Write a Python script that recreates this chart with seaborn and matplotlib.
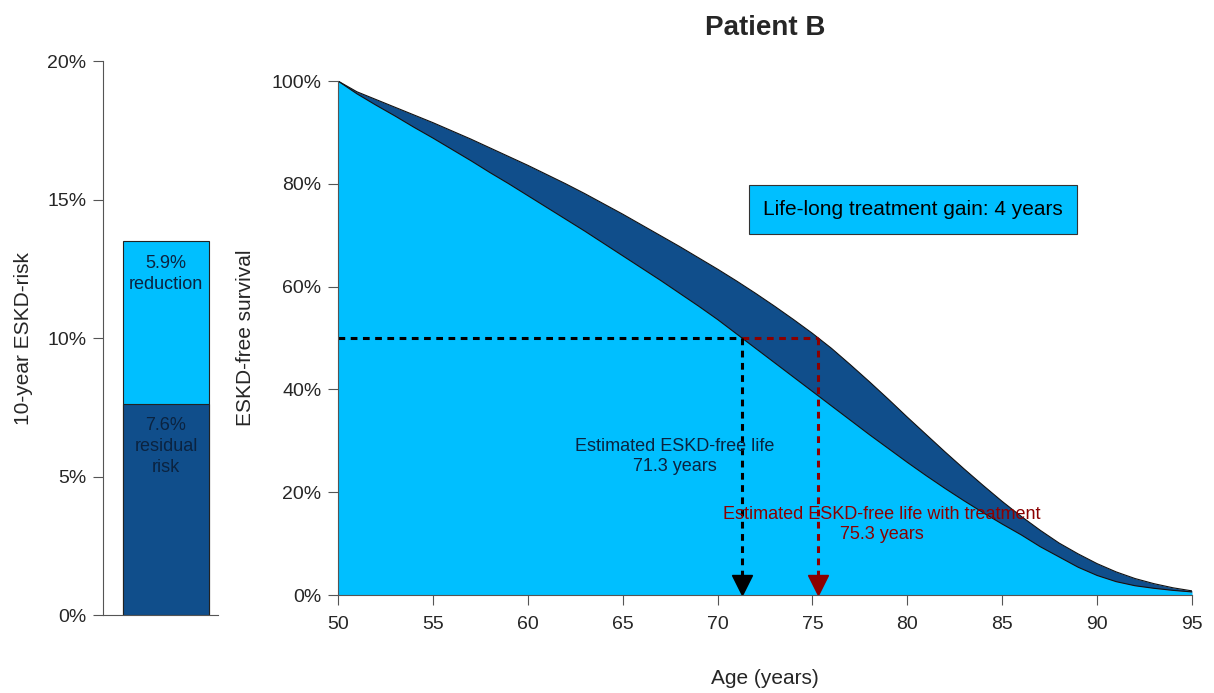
import matplotlib
matplotlib.use('Agg')
import matplotlib.pyplot as plt
import pandas as pd
import seaborn as sns
from matplotlib.ticker import PercentFormatter

# 10-year risk bar (left panel)
residual_risk = 7.6
risk_reduction = 5.9

# survival curves (right panel), one point per year of age
ages = list(range(50, 96))
surv_untreated = [100, 97.5, 95.3, 93.2, 91.0, 88.9, 86.7, 84.5, 82.2, 80.0,
                  77.7, 75.4, 73.1, 70.8, 68.4, 66.0, 63.6, 61.2, 58.7, 56.2,
                  53.6, 50.8, 48.0, 45.2, 42.4, 39.6, 36.8, 34.0, 31.2, 28.5,
                  25.8, 23.2, 20.7, 18.3, 16.0, 13.8, 11.7, 9.4, 7.4, 5.4,
                  3.8, 2.6, 1.8, 1.3, 0.9, 0.6]
surv_treated = [100, 97.9, 96.4, 94.9, 93.4, 91.9, 90.3, 88.7, 87.0, 85.3,
                83.6, 81.8, 80.0, 78.1, 76.1, 74.1, 72.0, 69.9, 67.8, 65.6,
                63.4, 61.1, 58.7, 56.2, 53.6, 50.9, 48.0, 44.8, 41.5, 38.1,
                34.6, 31.2, 27.8, 24.5, 21.3, 18.2, 15.3, 12.6, 10.1, 8.0,
                6.1, 4.5, 3.2, 2.2, 1.4, 0.8]

median_untreated = 71.3
median_treated = 75.3
gain_years = 4

light = '#00BFFF'
dark = '#104E8B'
red = '#8B0000'
txt = '#0b2340'

sns.set_style('ticks')
plt.rcParams['font.family'] = ['Liberation Sans', 'DejaVu Sans']

df = pd.DataFrame({'age': ages, 'untreated': surv_untreated, 'treated': surv_treated})
bar = pd.DataFrame({'g': ['risk'], 'total': [residual_risk + risk_reduction], 'residual': [residual_risk]})

fig = plt.figure(figsize=(12.14, 6.93), dpi=100)
ax1 = fig.add_axes([103 / 1214, 1 - 615 / 693, 115 / 1214, 554 / 693])
ax2 = fig.add_axes([338 / 1214, 1 - 595 / 693, 854 / 1214, 514 / 693])

# left panel: stacked bar
sns.barplot(data=bar, x='g', y='total', color=light, width=0.75, edgecolor='#222222', linewidth=0.8,
            saturation=1, ax=ax1)
sns.barplot(data=bar, x='g', y='residual', color=dark, width=0.75, edgecolor='#222222', linewidth=0.8,
            saturation=1, ax=ax1)
ax1.set_xlim(-0.549, 0.453)
ax1.set_ylim(0, 20)
ax1.set_yticks([0, 5, 10, 15, 20])
ax1.yaxis.set_major_formatter(PercentFormatter(decimals=0))
ax1.set_xticks([])
ax1.set_xlabel('')
ax1.set_ylabel('10-year ESKD-risk', fontsize=15, labelpad=10)
ax1.text(0, residual_risk + risk_reduction * 0.8, f'{risk_reduction}%\nreduction', ha='center', va='center',
         fontsize=13, color=txt, linespacing=1.3)
ax1.text(0, residual_risk * 0.8, f'{residual_risk}%\nresidual\nrisk', ha='center', va='center',
         fontsize=13, color=txt, linespacing=1.3)
sns.despine(ax=ax1, right=True, top=True)

# right panel: survival curves
ax2.fill_between(df['age'], 0, df['untreated'], color=light, lw=0)
ax2.fill_between(df['age'], df['untreated'], df['treated'], color=dark, lw=0)
sns.lineplot(data=df, x='age', y='untreated', color='#111111', lw=0.8, ax=ax2)
sns.lineplot(data=df, x='age', y='treated', color='#111111', lw=0.8, ax=ax2)

dash = (0, (2.2, 1.8))
ax2.plot([50, median_untreated], [50, 50], color='black', lw=2.2, ls=dash)
ax2.plot([median_untreated, median_treated], [50, 50], color=red, lw=2.2, ls=dash)
ax2.plot([median_untreated, median_untreated], [50, 3], color='black', lw=2.2, ls=dash)
ax2.plot([median_treated, median_treated], [50, 3], color=red, lw=2.2, ls=dash)
ax2.plot([median_untreated], [1.85], marker='v', color='black', markersize=14, clip_on=False)
ax2.plot([median_treated], [1.85], marker='v', color=red, markersize=14, clip_on=False)

ax2.text(67.75, 27.0, f'Estimated ESKD-free life\n{median_untreated} years', ha='center', va='center',
         fontsize=13, color=txt, linespacing=1.2)
ax2.text(78.66, 13.7, f'Estimated ESKD-free life with treatment\n{median_treated} years', ha='center',
         va='center', fontsize=13, color=red, linespacing=1.2)
ax2.text(80.3, 75.0, f'Life-long treatment gain: {gain_years} years', ha='center', va='center', fontsize=15,
         color='black',
         bbox=dict(boxstyle='square,pad=0.7', fc=light, ec='#333333', lw=0.8))

ax2.set_xlim(50, 95)
ax2.set_ylim(0, 100)
ax2.set_xticks(range(50, 96, 5))
ax2.set_yticks(range(0, 101, 20))
ax2.yaxis.set_major_formatter(PercentFormatter(decimals=0))
ax2.set_xlabel('Age (years)', fontsize=15, labelpad=26)
ax2.set_ylabel('ESKD-free survival', fontsize=15, labelpad=12)
ax2.set_title('Patient B', fontsize=20, fontweight='bold', pad=33)
sns.despine(ax=ax2, right=True, top=True)

for ax in (ax1, ax2):
    ax.tick_params(labelsize=14, length=7, width=0.8, color='#555555', pad=5)
    for s in ax.spines.values():
        s.set_color('#555555')
        s.set_linewidth(0.8)
ax2.tick_params(axis='x', pad=8)

plt.savefig('out.png', dpi=100)
